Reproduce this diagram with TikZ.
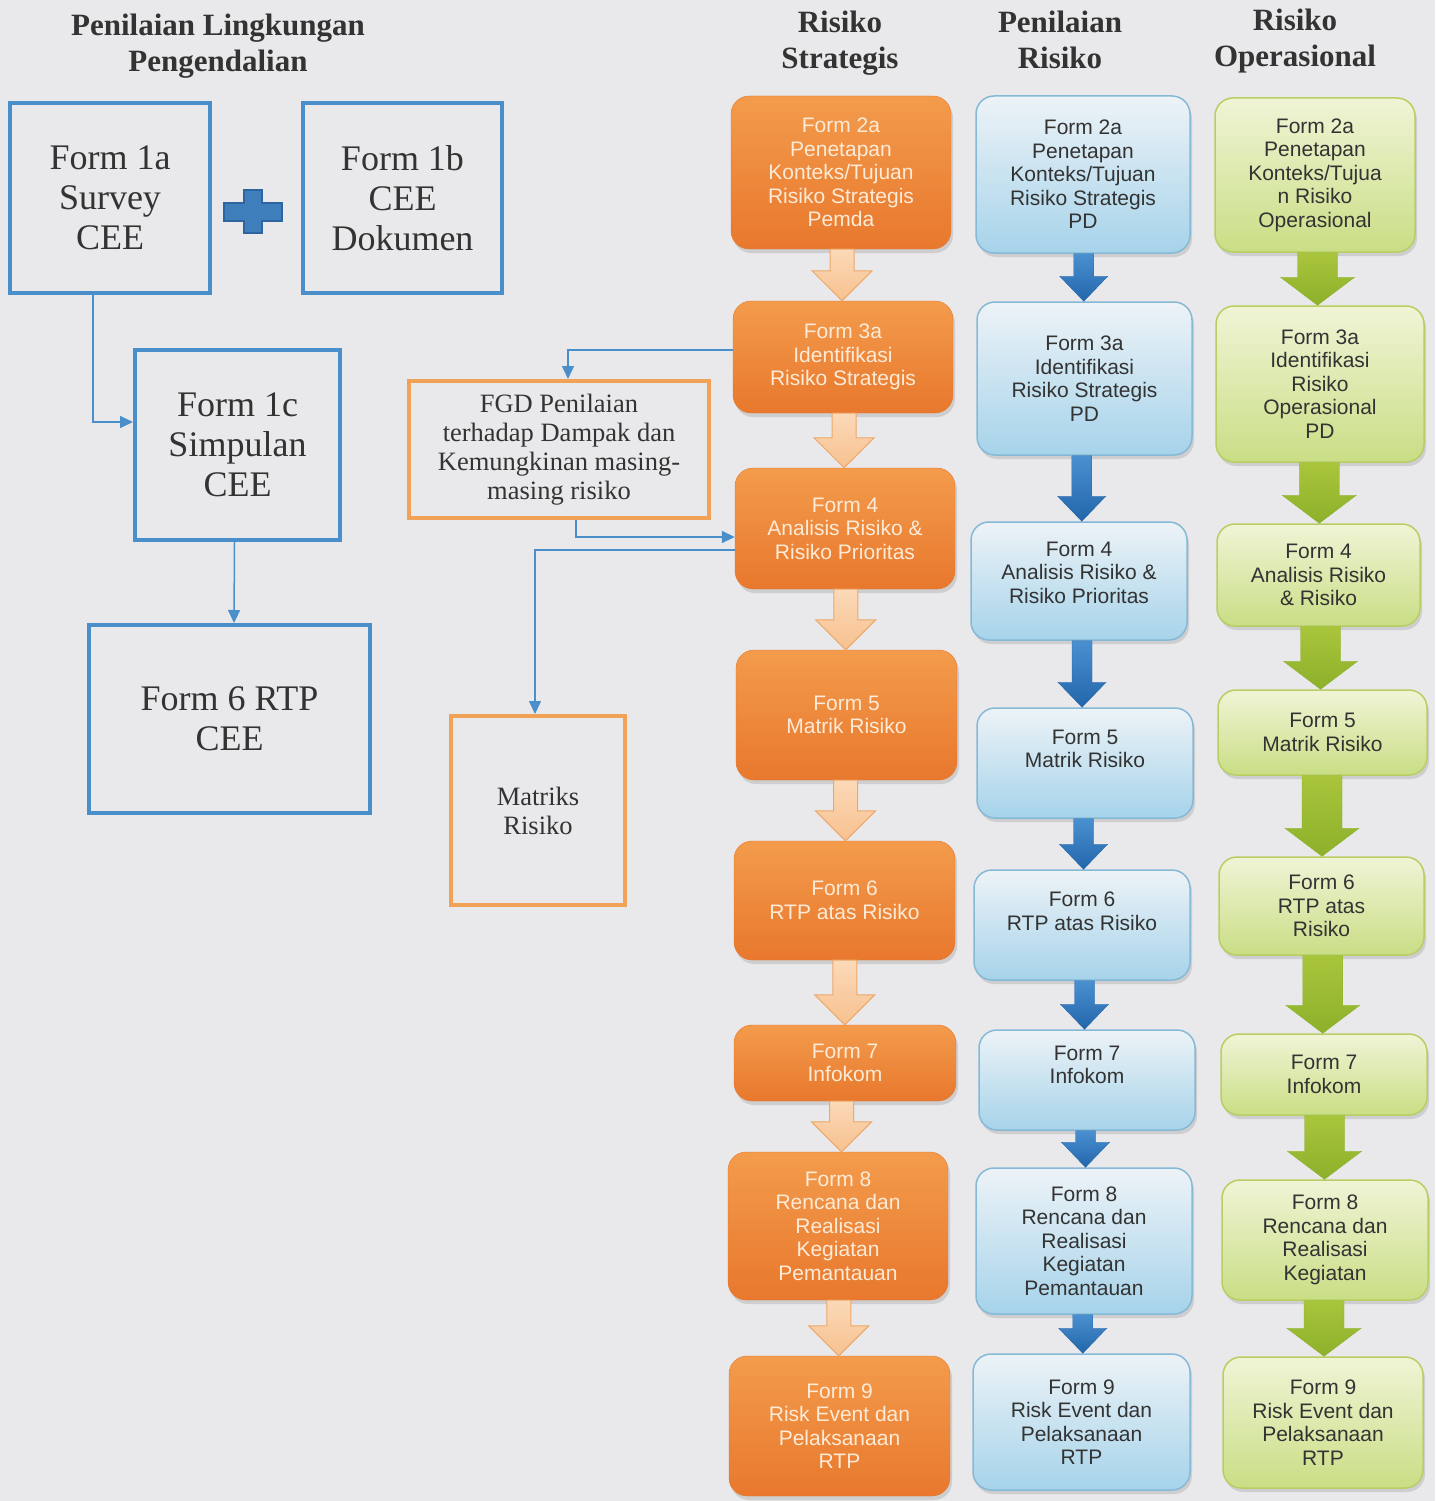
\documentclass[tikz,border=0pt]{standalone}
\usepackage{fontspec}
\setmainfont{Liberation Serif}
\newfontfamily\arialfont{Liberation Sans}
\usetikzlibrary{arrows.meta,calc,shadows}

\definecolor{bgGray}{HTML}{E9E9EB}
\definecolor{lineBlue}{HTML}{4A8FC9}
\definecolor{lineOrange}{HTML}{F2A257}
\definecolor{textGray}{HTML}{333333}
\definecolor{orTop}{HTML}{F39B4C}
\definecolor{orBot}{HTML}{E8782D}
\definecolor{orText}{HTML}{FDEBD8}
\definecolor{blTop}{HTML}{EDF3F7}
\definecolor{blBot}{HTML}{A6D3EA}
\definecolor{blEdge}{HTML}{86B9D6}
\definecolor{grTop}{HTML}{F0F4D6}
\definecolor{grBot}{HTML}{C9DE85}
\definecolor{grEdge}{HTML}{B8CE62}
\definecolor{peachTop}{HTML}{FBD9B8}
\definecolor{peachBot}{HTML}{F7C18F}
\definecolor{peachEdge}{HTML}{EDA86A}
\definecolor{arBlueTop}{HTML}{4A90D0}
\definecolor{arBlueBot}{HTML}{2366AB}
\definecolor{arGreenTop}{HTML}{A9C53C}
\definecolor{arGreenBot}{HTML}{8DB02A}
\definecolor{plusBlue}{HTML}{3E7EBB}
\definecolor{plusEdge}{HTML}{2C65A0}

\providecommand*{\blockarrow}{}
% #1 from, #2 to, #3 style, #4 half shaft, #5 half head, #6 head length
\renewcommand*{\blockarrow}[6]{%
  \path[#3] let \p1=(#1.south), \p2=(#2.north), \p3=($(#1.south)!.5!(#2.north)$) in
    (\x3-#4,\y1) -- (\x3+#4,\y1) -- (\x3+#4,\y2+#6) -- (\x3+#5,\y2+#6)
    -- (\x3,\y2) -- (\x3-#5,\y2+#6) -- (\x3-#4,\y2+#6) -- cycle;}

\tikzset{
  header/.style={align=center, text=textGray, font=\fontsize{31}{36}\selectfont\bfseries},
  cebox/.style={draw=lineBlue, line width=4pt, text=textGray, align=center,
    inner sep=0pt, font=\fontsize{36}{40}\selectfont},
  fgdbox/.style={draw=lineOrange, line width=4pt, text=textGray, align=center,
    inner sep=0pt, font=\fontsize{26.5}{29}\selectfont},
  formbox/.style={rounded corners=18pt, align=center, inner sep=0pt,
    font=\arialfont\fontsize{21}{23.5}\selectfont,
    drop shadow={shadow xshift=2pt, shadow yshift=-4pt, opacity=.25}},
  strat/.style={formbox, top color=orTop, bottom color=orBot, draw=orBot, text=orText},
  nilai/.style={formbox, top color=blTop, bottom color=blBot, draw=blEdge, line width=1.5pt, text=textGray},
  opera/.style={formbox, top color=grTop, bottom color=grBot, draw=grEdge, line width=1.5pt, text=textGray},
  link/.style={draw=lineBlue, line width=1.5pt, -{Triangle[length=13pt,width=12pt]}},
  stratarrow/.style={top color=peachTop, bottom color=peachBot, draw=peachEdge, line width=1pt},
  nilaiarrow/.style={top color=arBlueTop, bottom color=arBlueBot, draw=arBlueBot},
  operaarrow/.style={top color=arGreenTop, bottom color=arGreenBot, draw=arGreenBot}
}

\begin{document}
\begin{tikzpicture}[x=1pt,y=-1pt]
  \fill[bgGray] (0,0) rectangle (1435,1501);
  \useasboundingbox (0,0) rectangle (1435,1501);

%headers
  \node[header] (hLingkungan) at (218,46) {Penilaian Lingkungan\\Pengendalian};
  \node[header] (hStrategis) at (840,43) {Risiko\\Strategis};
  \node[header] (hPenilaian) at (1060,40) {Penilaian\\Risiko};
  \node[header] (hOperasional) at (1295,41) {Risiko\\Operasional};

%CEE block
  \node[cebox, minimum width=200pt, minimum height=190pt] (f1a) at (110,198) {Form 1a\\Survey\\CEE};
  \node[cebox, minimum width=199pt, minimum height=190pt] (f1b) at (402.5,198) {Form 1b\\CEE\\Dokumen};
  \node[cebox, minimum width=205pt, minimum height=190pt] (f1c) at (237.5,445) {Form 1c\\Simpulan\\CEE};
  \node[cebox, minimum width=281pt, minimum height=188pt] (f6) at (229.5,719) {Form 6 RTP\\CEE};
  \draw[line width=2pt, draw=plusEdge, fill=plusBlue]
    (244,190) -- (262,190) -- (262,203) -- (282,203) -- (282,221) -- (262,221)
    -- (262,233) -- (244,233) -- (244,221) -- (224,221) -- (224,203) -- (244,203) -- cycle;
  \draw[link] ([xshift=-17pt]f1a.south) |- ([yshift=23pt]f1c.west);
  \draw[link] ([xshift=-3pt]f1c.south) -- ([xshift=4.5pt]f6.north);

%FGD and matriks
  \node[fgdbox, minimum width=300pt, minimum height=137pt] (fgd) at (559,449.5)
    {FGD Penilaian\\terhadap Dampak dan\\Kemungkinan masing-\\masing risiko};
  \node[fgdbox, minimum width=174pt, minimum height=189pt] (mat) at (538,810.5) {Matriks\\Risiko};

%Risiko Strategis
  \node[strat, minimum width=220pt, minimum height=153pt] (s2a) at (841,172.5)
    {Form 2a\\Penetapan\\Konteks/Tujuan\\Risiko Strategis\\Pemda};
  \node[strat, minimum width=220pt, minimum height=112pt] (s3a) at (843,357)
    {Form 3a\\Identifikasi\\Risiko Strategis};
  \node[strat, minimum width=220pt, minimum height=121pt] (s4) at (845,528.5)
    {Form 4\\Analisis Risiko \&\\Risiko Prioritas};
  \node[strat, minimum width=221pt, minimum height=130pt] (s5) at (846.5,715) {Form 5\\Matrik Risiko};
  \node[strat, minimum width=221pt, minimum height=119pt] (s6) at (844.5,900.5) {Form 6\\RTP atas Risiko};
  \node[strat, minimum width=222pt, minimum height=76pt] (s7) at (845,1063) {Form 7\\Infokom};
  \node[strat, minimum width=220pt, minimum height=148pt] (s8) at (838,1226)
    {Form 8\\Rencana dan\\Realisasi\\Kegiatan\\Pemantauan};
  \node[strat, minimum width=221pt, minimum height=140pt] (s9) at (839.5,1426)
    {Form 9\\Risk Event dan\\Pelaksanaan\\RTP};

%Penilaian Risiko
  \node[nilai, minimum width=214pt, minimum height=157pt] (p2a) at (1083,174.5)
    {Form 2a\\Penetapan\\Konteks/Tujuan\\Risiko Strategis\\PD};
  \node[nilai, minimum width=215pt, minimum height=153pt] (p3a) at (1084.5,378.5)
    {Form 3a\\Identifikasi\\Risiko Strategis\\PD};
  \node[nilai, minimum width=216pt, minimum height=118pt, text depth=17pt] (p4) at (1079,581)
    {Form 4\\Analisis Risiko \&\\Risiko Prioritas};
  \node[nilai, minimum width=216pt, minimum height=110pt, text depth=28pt] (p5) at (1085,763) {Form 5\\Matrik Risiko};
  \node[nilai, minimum width=216pt, minimum height=110pt, text depth=28pt] (p6) at (1082,925) {Form 6\\RTP atas Risiko};
  \node[nilai, minimum width=216pt, minimum height=100pt, text depth=30pt] (p7) at (1087,1080) {Form 7\\Infokom};
  \node[nilai, minimum width=216pt, minimum height=146pt] (p8) at (1084,1241)
    {Form 8\\Rencana dan\\Realisasi\\Kegiatan\\Pemantauan};
  \node[nilai, minimum width=217pt, minimum height=136pt] (p9) at (1081.5,1422)
    {Form 9\\Risk Event dan\\Pelaksanaan\\RTP};

%Risiko Operasional
  \node[opera, minimum width=200pt, minimum height=154pt] (r2a) at (1315,175)
    {Form 2a\\Penetapan\\Konteks/Tujua\\n Risiko\\Operasional};
  \node[opera, minimum width=208pt, minimum height=156pt] (r3a) at (1320,384)
    {Form 3a\\Identifikasi\\Risiko\\Operasional\\PD};
  \node[opera, minimum width=203pt, minimum height=102pt] (r4) at (1318.5,575)
    {Form 4\\Analisis Risiko\\\& Risiko};
  \node[opera, minimum width=209pt, minimum height=85pt] (r5) at (1322.5,732.5) {Form 5\\Matrik Risiko};
  \node[opera, minimum width=205pt, minimum height=98pt] (r6) at (1321.5,906) {Form 6\\RTP atas\\Risiko};
  \node[opera, minimum width=206pt, minimum height=81pt] (r7) at (1324,1074.5) {Form 7\\Infokom};
  \node[opera, minimum width=206pt, minimum height=120pt] (r8) at (1325,1240)
    {Form 8\\Rencana dan\\Realisasi\\Kegiatan};
  \node[opera, minimum width=200pt, minimum height=131pt] (r9) at (1323,1422.5)
    {Form 9\\Risk Event dan\\Pelaksanaan\\RTP};

%block arrows
  \foreach \a/\b in {s2a/s3a,s3a/s4,s4/s5,s5/s6,s6/s7,s7/s8,s8/s9}
    \blockarrow{\a}{\b}{stratarrow}{12pt}{30pt}{30pt};
  \foreach \a/\b in {p2a/p3a,p3a/p4,p4/p5,p5/p6,p6/p7,p7/p8,p8/p9}
    \blockarrow{\a}{\b}{nilaiarrow}{10pt}{24pt}{25pt};
  \foreach \a/\b in {r2a/r3a,r3a/r4,r4/r5,r5/r6,r6/r7,r7/r8,r8/r9}
    \blockarrow{\a}{\b}{operaarrow}{20pt}{37pt}{28pt};

%links to FGD and matriks
  \draw[link] ([yshift=7pt]s3a.west) -| ([xshift=9pt]fgd.north);
  \draw[link] ([xshift=17pt]fgd.south) |- ([yshift=-8.5pt]s4.west);
  \draw[link] ([yshift=-21.5pt]s4.west) -| ([xshift=-3pt]mat.north);
\end{tikzpicture}
\end{document}
